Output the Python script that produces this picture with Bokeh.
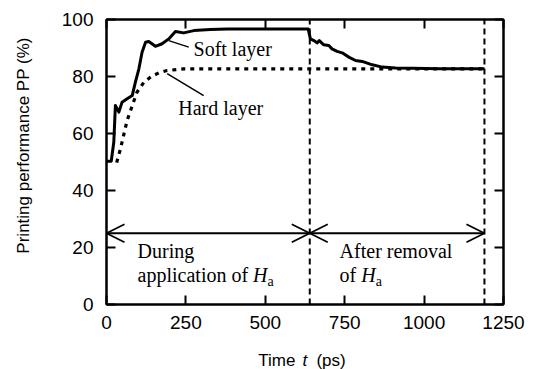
import math
from bokeh.plotting import figure
from bokeh.models import Range1d, LinearAxis, Label, Arrow, OpenHead, FixedTicker
from bokeh.embed import file_html
from bokeh.resources import INLINE

# ---- data ----
soft_t = [0, 15, 23, 28, 39, 49, 65, 81, 91, 102, 112, 123, 133, 154, 175, 196, 217, 243, 275, 327,
          380, 500, 635, 642, 653, 663, 670, 684, 700, 710, 726, 742, 763, 784, 805, 837, 868, 910,
          962, 1050, 1190]
soft_pp = [50.3, 50.3, 57, 69.8, 67.5, 71, 72.2, 73.3, 78, 82.7, 88.5, 92, 92.3, 90.6, 91.5, 93.2, 95.8,
           95.3, 96.1, 96.5, 96.7, 96.7, 96.7, 93.2, 92.6, 91.8, 92.6, 91.1, 90.9, 89.7, 88.8, 88.3, 86.8,
           85.6, 85.3, 84.1, 83.3, 83.0, 82.9, 82.7, 82.7]

hard_t = [32, 44, 55, 65, 81, 96, 118, 139, 165, 191, 243, 640, 1190]
hard_pp = [49.8, 54.6, 59.9, 64.6, 69.8, 74.5, 78, 79.8, 81.3, 82.1, 82.7, 82.7, 82.7]

phase_bounds = [640, 1190]
arrow_level = 25

x_ticks = [0, 250, 500, 750, 1000, 1250]
y_ticks = [0, 20, 40, 60, 80, 100]

soft_leader_t = [196, 259]
soft_leader_pp = [92.6, 90.3]
hard_leader_t = [191, 306]
hard_leader_pp = [81, 73.3]

SERIF = "Liberation Serif"
SANS = "Liberation Sans"

p = figure(width=539, height=369, output_backend="svg", toolbar_location=None,
           x_range=Range1d(0, 1250), y_range=Range1d(0, 100),
           min_border_left=106, min_border_right=36, min_border_top=19, min_border_bottom=65)
p.background_fill_color = "white"
p.border_fill_color = "white"
p.outline_line_color = "black"
p.outline_line_width = 2
p.xgrid.visible = False
p.ygrid.visible = False

for ax, ticks in ((p.xaxis[0], x_ticks), (p.yaxis[0], y_ticks)):
    ax.ticker = FixedTicker(ticks=ticks)
    ax.major_tick_in = 9
    ax.major_tick_out = 0
    ax.minor_tick_line_color = None
    ax.axis_line_width = 2
    ax.major_tick_line_width = 2
    ax.major_label_text_font = SANS
    ax.major_label_text_font_size = "19px"
    ax.major_label_text_color = "black"

p.xaxis.major_label_standoff = 11
p.yaxis.major_label_standoff = 13

# mirrored ticks on top and right (no labels drawn)
for loc, ticks in (("above", x_ticks), ("right", y_ticks)):
    ax = LinearAxis(ticker=FixedTicker(ticks=ticks), major_tick_in=9, major_tick_out=0,
                    minor_tick_line_color=None, axis_line_width=2, major_tick_line_width=2,
                    major_label_text_font_size="0px", major_label_text_color=None,
                    major_label_standoff=0)
    p.add_layout(ax, loc)

# phase boundaries
p.segment(x0=phase_bounds, y0=[0, 0], x1=phase_bounds, y1=[100, 100],
          line_color="black", line_width=2, line_dash="6 4")

# curves
p.line(hard_t, hard_pp, line_color="black", line_width=3.2, line_dash="4 5")
p.line(soft_t, soft_pp, line_color="black", line_width=3, line_join="round")

# leader lines
p.line(soft_leader_t, soft_leader_pp, line_color="black", line_width=1.5)
p.line(hard_leader_t, hard_leader_pp, line_color="black", line_width=1.5)

# double arrows
bounds = [0] + phase_bounds
for a, b in zip(bounds[:-1], bounds[1:]):
    p.add_layout(Arrow(x_start=a, x_end=b, y_start=arrow_level, y_end=arrow_level,
                       line_color="black", line_width=1.8,
                       start=OpenHead(size=18, line_width=1.8, line_color="black"),
                       end=OpenHead(size=18, line_width=1.8, line_color="black")))


def lab(x, y, text, font=SERIF, size="20px", style="normal", baseline="middle", align="left",
        place="center", angle=0.0):
    l = Label(x=x, y=y, text=text, text_font=font, text_font_size=size,
              text_font_style=style, text_baseline=baseline, text_align=align,
              text_color="black", angle=angle)
    p.add_layout(l, place)


lab(274, 89.5, "Soft layer")
lab(226, 68.8, "Hard layer")
lab(98, 18.9, "During")
lab(98, 10.2, "application of ")
lab(461, 10.2, "H", style="italic")
lab(507, 8.0, "a", size="14px")
lab(734, 18.9, "After removal")
lab(734, 10.2, "of ")
lab(802, 10.2, "H", style="italic")
lab(848, 8.0, "a", size="14px")

# axis titles: placed in side panels (not clipped to the frame), positioned in data units
lab(478, -19.6, "Time", font=SANS, size="17px", baseline="alphabetic", place="below")
lab(617, -19.6, "t", font=SANS, size="17px", style="italic", baseline="alphabetic", place="right")
lab(661, -19.6, "(ps)", font=SANS, size="17px", baseline="alphabetic", place="left")
lab(-261, 55.8, "Printing performance PP (%)", font=SANS, size="17px", align="center",
    place="left", angle=math.pi / 2)

open("out.html", "w").write(file_html(p, INLINE))
